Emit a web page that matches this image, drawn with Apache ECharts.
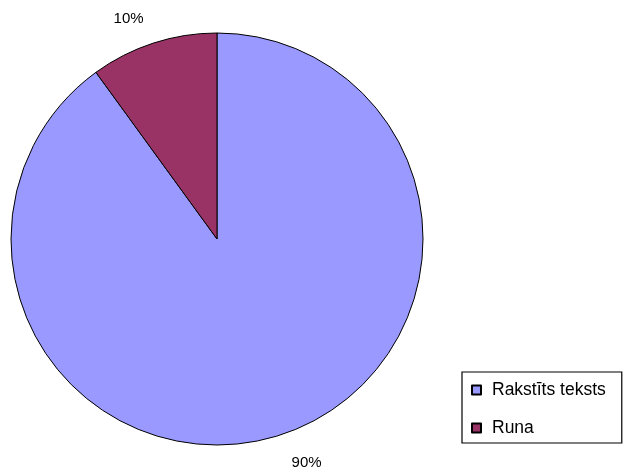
<!DOCTYPE html>
<html><head><meta charset="utf-8">
<script src="https://cdn.jsdelivr.net/npm/echarts@6/dist/echarts.min.js"></script>
<style>html,body{margin:0;padding:0;background:#fff}#c{width:627px;height:469px}</style>
</head><body><div id="c"></div>
<script>
const categories = ['Rakstīts teksts', 'Runa'];
const values = [90, 10];
const colors = ['#9999FF', '#993366'];
const labelDist = [29, 25];

const chart = echarts.init(document.getElementById('c'));
chart.setOption({
  animation: false,
  legend: {
    orient: 'vertical',
    left: 462, top: 372,
    padding: [9, 16, 6, 9],
    itemGap: 20,
    itemWidth: 9, itemHeight: 9,
    icon: 'rect',
    borderColor: '#000', borderWidth: 1.2,
    textStyle: { fontFamily: 'Liberation Sans, Arial', fontSize: 17.5, lineHeight: 18, color: '#000', padding: [0, 0, 0, 6] },
    data: categories
  },
  series: [{
    type: 'pie',
    center: [217, 239],
    radius: 206,
    startAngle: 90,
    clockwise: true,
    data: categories.map((n, i) => ({
      name: n, value: values[i],
      itemStyle: { color: colors[i] },
      labelLine: { show: false, length: labelDist[i], length2: 0 }
    })),
    itemStyle: { borderColor: '#000', borderWidth: 1 },
    label: {
      show: true, position: 'outside',
      formatter: p => Math.round(p.percent) + '%',
      fontFamily: 'Liberation Sans, Arial', fontSize: 15, color: '#000',
      distanceToLabelLine: 2
    },
    labelLine: { show: false, length: 27, length2: 0 },
    emphasis: { disabled: true }
  }]
});
</script></body></html>
